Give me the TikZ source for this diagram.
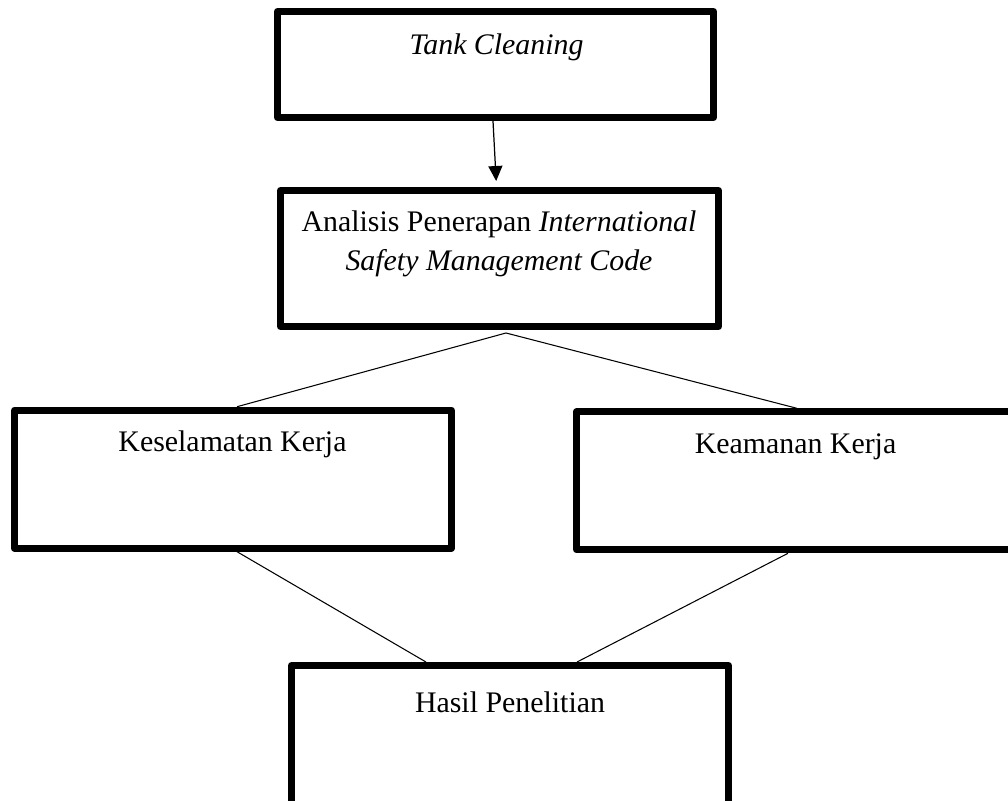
\documentclass[tikz,border=0pt]{standalone}
\usepackage{fontspec}
\setmainfont{Liberation Serif}
\usetikzlibrary{arrows.meta,calc}

\begin{document}
\begin{tikzpicture}[x=0.02cm,y=-0.02cm,>={Triangle[length=0.3cm,width=0.28cm]},
  box/.style={draw,line width=0.14cm,line join=round,minimum width=8.74cm,minimum height=2.76cm,inner sep=0pt},
  txt/.style={anchor=base,inner sep=0pt,font=\fontsize{17pt}{21.8pt}\selectfont},
  link/.style={line width=0.6pt}]
\useasboundingbox (0,0) rectangle (1008,801);
\node[box,minimum width=8.72cm,minimum height=2.12cm] (tank) at (495.5,64.5) {};
\node[box,minimum width=8.76cm,minimum height=2.72cm] (ana) at (499.5,258.5) {};
\node[box] (kes) at (233,479.2) {};
\node[box] (kea) at (795,480.8) {};
\node[box,minimum height=2.9cm] (hasil) at (510,738) {};
\node[txt] (tanktxt) at (496.5,54) {\textit{Tank Cleaning}};
\node[txt,align=center] (anatxt) at (499,270) {Analisis Penerapan \textit{International}\\ \textit{Safety Management Code}};
\node[txt] (kestxt) at (232.5,451.7) {Keselamatan Kerja};
\node[txt] (keatxt) at (795.5,453) {Keamanan Kerja};
\node[txt] (hasiltxt) at (510,712) {Hasil Penelitian};
\draw[line width=0.7pt,->,shorten >=0.12cm] ($(tank.south)+(-2.5,0)$) -- ($(ana.north)+(-3,0)$);
\draw[link] ($(ana.south)+(6.5,3)$) -- ($(kes.north)+(4,0)$);
\draw[link] ($(ana.south)+(6.5,3)$) -- ($(kea.north)+(2,0)$);
\draw[link] ($(kes.south)+(4,0)$) -- ($(hasil.north)+(-84,0)$);
\draw[link] ($(kea.south)+(-7,0)$) -- ($(hasil.north)+(67,0)$);
\end{tikzpicture}
\end{document}
